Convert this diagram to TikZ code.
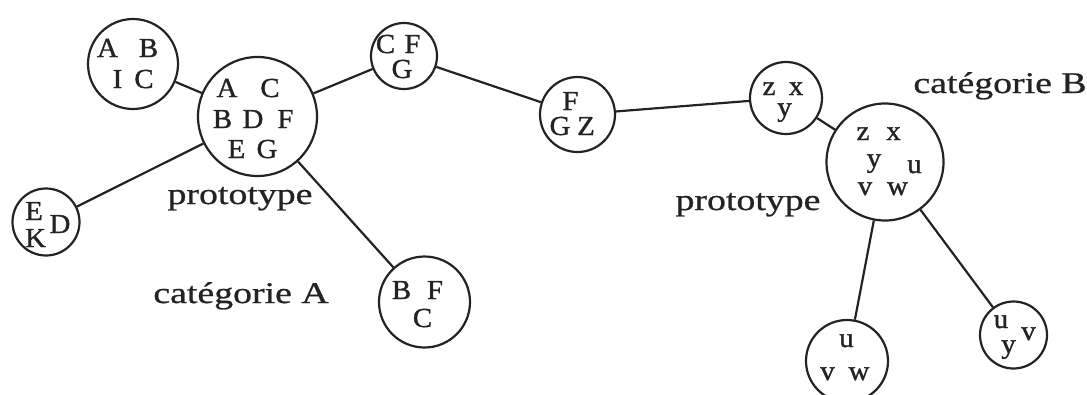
\documentclass[tikz,border=0pt]{standalone}
\usepackage{fontspec}
\setmainfont{Liberation Serif}
\newfontfamily\lblfont[FakeStretch=1.26,FakeBold=0.8]{Liberation Serif}
\newfontfamily\letfont[FakeStretch=1.05,FakeBold=1.2]{Liberation Serif}
\definecolor{ink}{RGB}{35,35,35}
\begin{document}
\begin{tikzpicture}[x=1pt,y=-1pt,
  ring/.style={draw=ink, line width=2.2pt, circle, inner sep=0pt},
  let/.style={inner sep=0pt, anchor=base, text=ink, font=\letfont\fontsize{27.5}{27.5}\selectfont},
  lbl/.style={inner sep=0pt, anchor=base, text=ink, font=\lblfont\fontsize{30}{30}\selectfont},
  link/.style={draw=ink, line width=2.2pt}]
\useasboundingbox (0,0) rectangle (1087,394);
% circles
\node[ring, minimum size=90pt]  (abic) at (133,64) {};
\node[ring, minimum size=119pt] (pa)   at (257.5,116.5) {};
\node[ring, minimum size=67pt]  (ekd)  at (46,222) {};
\node[ring, minimum size=66pt]  (cfg)  at (404,56) {};
\node[ring, minimum size=75pt]  (fgz)  at (577.5,114.5) {};
\node[ring, minimum size=91pt]  (bfc)  at (424.5,302) {};
\node[ring, minimum size=72pt]  (zyx)  at (786,98) {};
\node[ring, minimum size=117pt] (pb)   at (885,162) {};
\node[ring, minimum size=82pt]  (uvw)  at (847,361) {};
\node[ring, minimum size=67pt]  (uyv)  at (1013.5,335) {};
% letters
\foreach \n/\x/\y in {A/107.5/57, B/148.5/57, I/117.5/88, C/144/88}
  \node[let] (abic-\n) at (\x,\y) {\n};
\foreach \n/\x/\y in {A/227/97, C/270/97, B/222.5/128, D/253/128, F/285.5/128, E/236.5/158, G/267/158}
  \node[let] (pa-\n) at (\x,\y) {\n};
\foreach \n/\x/\y in {E/34/220, K/35.5/247, D/60/233}
  \node[let] (ekd-\n) at (\x,\y) {\n};
\foreach \n/\x/\y in {C/385.5/53, F/412.5/53, G/402/78}
  \node[let] (cfg-\n) at (\x,\y) {\n};
\foreach \n/\x/\y in {F/570.5/110, G/560/135, Z/586/135}
  \node[let] (fgz-\n) at (\x,\y) {\n};
\foreach \n/\x/\y in {B/401.5/299, F/435/299, C/422.5/327}
  \node[let] (bfc-\n) at (\x,\y) {\n};
\foreach \n/\x/\y in {z/769/95, x/796/95, y/784.5/116}
  \node[let] (zyx-\n) at (\x,\y) {\n};
\foreach \n/\x/\y in {z/863/140, x/893.5/140, y/874/167, u/914.5/173, v/865/195, w/897.5/195}
  \node[let] (pb-\n) at (\x,\y) {\n};
\foreach \n/\x/\y in {u/846.5/347, v/827.5/380, w/859/380}
  \node[let] (uvw-\n) at (\x,\y) {\n};
\foreach \n/\x/\y in {u/1001/328, v/1028.5/340, y/1008.5/353}
  \node[let] (uyv-\n) at (\x,\y) {\n};
% labels
\node[lbl] (protoA) at (240,204) {prototype};
\node[lbl] (catA)   at (241,303) {catégorie A};
\node[lbl] (protoB) at (748,210) {prototype};
\node[lbl] (catB)   at (1000,93) {catégorie B};
% connectors
\draw[link] (abic) -- (pa);
\draw[link] (ekd) -- (pa);
\draw[link] (pa) -- (bfc);
\draw[link] (pa) -- (cfg);
\draw[link] (cfg) -- (fgz);
\draw[link] (fgz) -- (zyx);
\draw[link] (zyx) -- (pb);
\draw[link] (pb) -- (uvw);
\draw[link] (pb) -- (uyv);
\end{tikzpicture}
\end{document}
